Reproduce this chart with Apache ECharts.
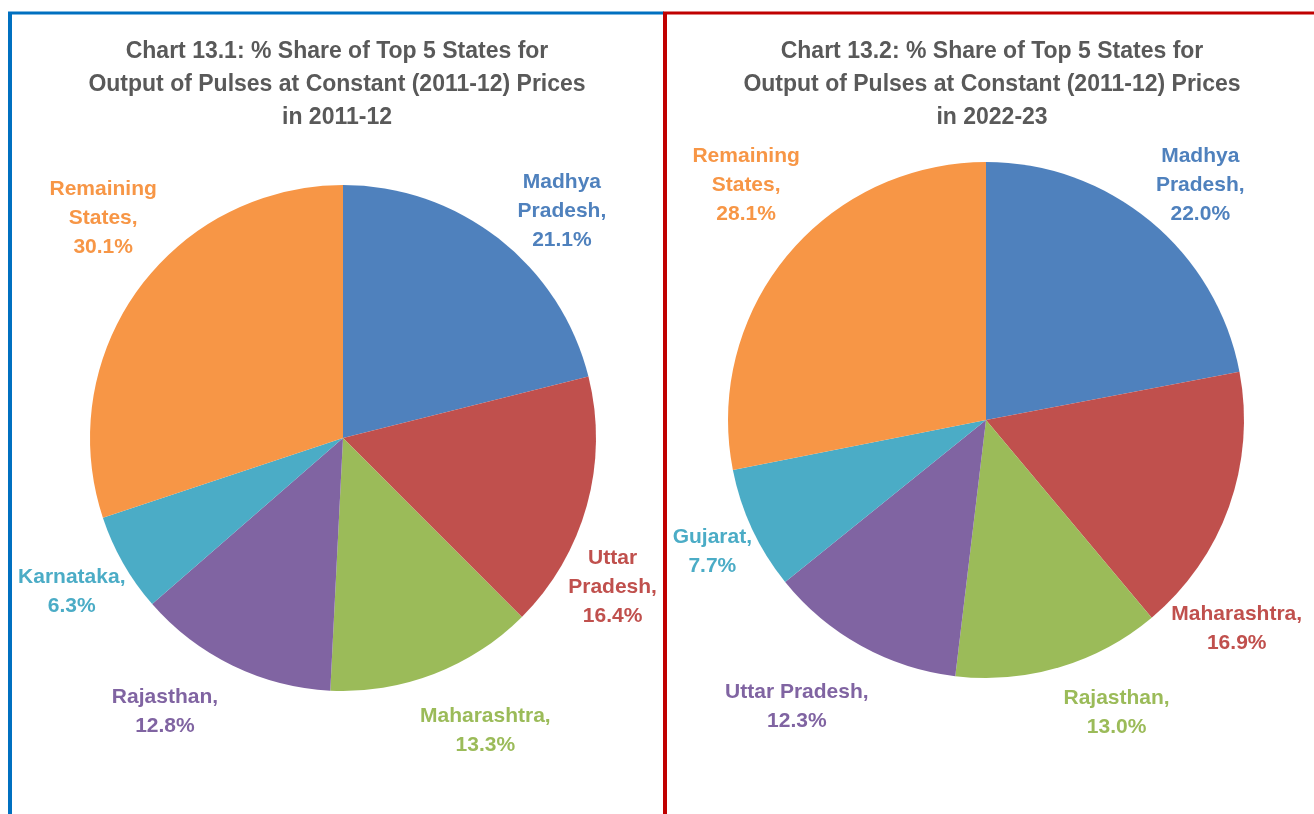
<!DOCTYPE html>
<html>
<head>
<meta charset="utf-8">
<script src="https://cdn.jsdelivr.net/npm/echarts@6/dist/echarts.min.js"></script>
<style>
  html, body { margin: 0; padding: 0; background: #fff; }
  #main { width: 1314px; height: 814px; }
</style>
</head>
<body>
<div id="main"></div>
<script>
// ---- Data ----
const categories1 = ['Madhya Pradesh', 'Uttar Pradesh', 'Maharashtra', 'Rajasthan', 'Karnataka', 'Remaining States'];
const values1 = [21.1, 16.4, 13.3, 12.8, 6.3, 30.1];
const labelNames1 = ['Madhya\nPradesh,', 'Uttar\nPradesh,', 'Maharashtra,', 'Rajasthan,', 'Karnataka,', 'Remaining\nStates,'];
const title1 = ['Chart 13.1: % Share of Top 5 States for', 'Output of Pulses at Constant (2011-12) Prices', 'in 2011-12'];

const categories2 = ['Madhya Pradesh', 'Maharashtra', 'Rajasthan', 'Uttar Pradesh', 'Gujarat', 'Remaining States'];
const values2 = [22.0, 16.9, 13.0, 12.3, 7.7, 28.1];
const labelNames2 = ['Madhya\nPradesh,', 'Maharashtra,', 'Rajasthan,', 'Uttar Pradesh,', 'Gujarat,', 'Remaining\nStates,'];
const title2 = ['Chart 13.2: % Share of Top 5 States for', 'Output of Pulses at Constant (2011-12) Prices', 'in 2022-23'];

const colors = ['#4F81BD', '#C0504D', '#9BBB59', '#8064A2', '#4BACC6', '#F79646'];

// ---- Layout (label placement, "best fit" style) ----
const FONT = '"Liberation Sans", Arial, sans-serif';
const pie1 = { cx: 343, cy: 438, r: 253 };
const pie2 = { cx: 986, cy: 420, r: 258 };
// per-label nudge: angular shift (deg) from slice bisector, and distance beyond the rim (px) to label centre
const labelShift1 = [5.7, 13.1, -5.0, 7.3, 0.4, 7.0];
const labelExtra1 = [64, 54, 71, 72, 58, 74];
const labelShift2 = [2.6, 19.9, -7.6, 4.6, -0.4, 5.2];
const labelExtra2 = [61, 67, 61, 84, 45, 79];

function makeLabelLayout(pie, vals, shifts, extras) {
  const total = vals.reduce((a, b) => a + b, 0);
  return function (params) {
    const i = params.dataIndex;
    let before = 0;
    for (let k = 0; k < i; k++) before += vals[k];
    const mid = (before + vals[i] / 2) / total * Math.PI * 2 + shifts[i] * Math.PI / 180;
    const ux = Math.sin(mid), uy = -Math.cos(mid);
    const d = pie.r + extras[i];
    return { x: pie.cx + d * ux, y: pie.cy + d * uy + 2, align: 'center', verticalAlign: 'middle' };
  };
}

function makeSeries(pie, cats, vals, labelNames, shifts, extras) {
  return {
    type: 'pie',
    center: [pie.cx, pie.cy],
    radius: [0, pie.r],
    startAngle: 90,
    clockwise: true,
    silent: true,
    animation: false,
    avoidLabelOverlap: false,
    data: cats.map((c, i) => ({
      name: c,
      value: vals[i],
      itemStyle: { color: colors[i] },
      label: {
        color: colors[i],
        formatter: labelNames[i] + '\n' + vals[i].toFixed(1) + '%'
      }
    })),
    itemStyle: { borderWidth: 0 },
    label: {
      show: true,
      position: 'outside',
      fontFamily: FONT,
      fontWeight: 'bold',
      fontSize: 21,
      lineHeight: 29,
      align: 'center'
    },
    labelLine: { show: false },
    labelLayout: makeLabelLayout(pie, vals, shifts, extras)
  };
}

function titleText(x, lines) {
  return {
    type: 'text',
    x: x,
    y: 35,
    silent: true,
    style: {
      text: lines.join('\n'),
      align: 'center',
      verticalAlign: 'top',
      fontFamily: FONT,
      fontWeight: 'bold',
      fontSize: 23,
      lineHeight: 33,
      fill: '#595959'
    }
  };
}

const chart = echarts.init(document.getElementById('main'), null, { renderer: 'canvas' });
chart.setOption({
  backgroundColor: '#ffffff',
  animation: false,
  series: [
    makeSeries(pie1, categories1, values1, labelNames1, labelShift1, labelExtra1),
    makeSeries(pie2, categories2, values2, labelNames2, labelShift2, labelExtra2)
  ],
  graphic: [
    titleText(337, title1),
    titleText(992, title2),
    // left panel border (blue)
    { type: 'line', silent: true, shape: { x1: 10, y1: 12, x2: 10, y2: 814 }, style: { stroke: '#0070C0', lineWidth: 4 } },
    { type: 'line', silent: true, shape: { x1: 8, y1: 13, x2: 664, y2: 13 }, style: { stroke: '#0070C0', lineWidth: 3 } },
    // right panel border (red)
    { type: 'line', silent: true, shape: { x1: 665, y1: 12, x2: 665, y2: 814 }, style: { stroke: '#C00000', lineWidth: 4 } },
    { type: 'line', silent: true, shape: { x1: 663, y1: 13, x2: 1314, y2: 13 }, style: { stroke: '#C00000', lineWidth: 3 } }
  ]
});
</script>
</body>
</html>
